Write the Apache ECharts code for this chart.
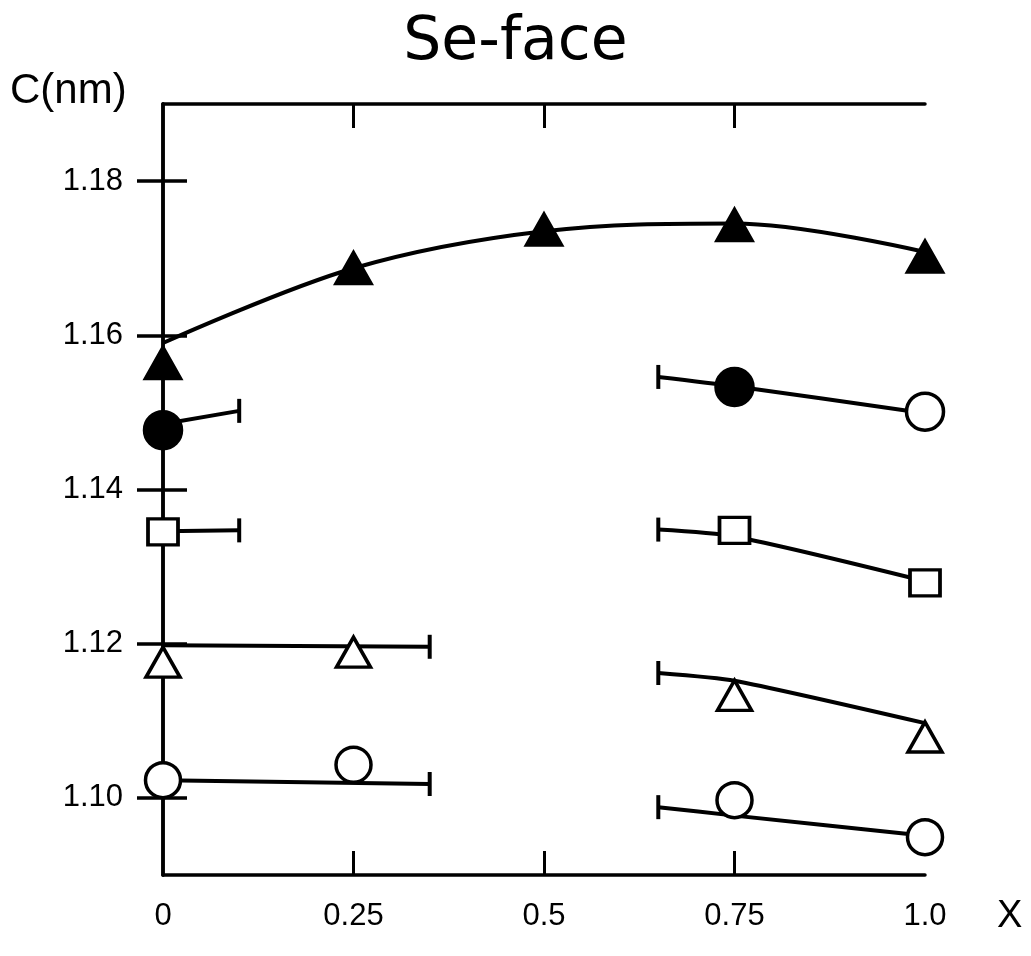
<!DOCTYPE html>
<html>
<head>
<meta charset="utf-8">
<title>Se-face</title>
<script src="https://cdn.jsdelivr.net/npm/echarts@6/dist/echarts.min.js"></script>
<style>
  html, body { margin: 0; padding: 0; background: #fff; }
  #chart { width: 1031px; height: 956px; }
</style>
</head>
<body>
<div id="chart"></div>
<script>
// Axis ticks and labels
const xTickValues = [0, 0.25, 0.5, 0.75, 1.0];
const xTickLabels = ['0', '0.25', '0.5', '0.75', '1.0'];
const xInnerTicks = [0.25, 0.5, 0.75];
const yTickValues = [1.10, 1.12, 1.14, 1.16, 1.18];
const yTickLabels = ['1.10', '1.12', '1.14', '1.16', '1.18'];

// Solid triangles: measured points and fitted curve
const triSolidX = [0, 0.25, 0.5, 0.75, 1.0];
const triSolidC = [1.1564, 1.1687, 1.1737, 1.1743, 1.1702];
const triSolidFitX = [0, 0.25, 0.5, 0.75, 1.0];
const triSolidFitC = [1.1590, 1.1687, 1.1735, 1.1745, 1.1708];

// Circles (filled at x = 0 and 0.75, open at x = 1.0)
const circX = [0, 0.75, 1.0];
const circC = [1.1477, 1.1533, 1.1501];
const circFilled = [true, true, false];
const circFitLeftX = [0, 0.1];
const circFitLeftC = [1.1485, 1.1502];
const circFitRightX = [0.65, 0.75, 1.0];
const circFitRightC = [1.1546, 1.1534, 1.1499];

// Open squares
const sqX = [0, 0.75, 1.0];
const sqC = [1.1345, 1.1347, 1.1279];
const sqFitLeftX = [0, 0.1];
const sqFitLeftC = [1.1346, 1.1347];
const sqFitRightX = [0.65, 0.75, 1.0];
const sqFitRightC = [1.1348, 1.1339, 1.1281];

// Open triangles
const triOpenX = [0, 0.25, 0.75, 1.0];
const triOpenC = [1.1176, 1.1189, 1.1133, 1.1079];
const triOpenFitLeftX = [0, 0.35];
const triOpenFitLeftC = [1.1198, 1.1196];
const triOpenFitRightX = [0.65, 0.75, 1.0];
const triOpenFitRightC = [1.1162, 1.1152, 1.1097];

// Open circles
const ringX = [0, 0.25, 0.75, 1.0];
const ringC = [1.1023, 1.1043, 1.0997, 1.0949];
const ringFitLeftX = [0, 0.35];
const ringFitLeftC = [1.1023, 1.1018];
const ringFitRightX = [0.65, 0.75, 1.0];
const ringFitRightC = [1.0988, 1.0977, 1.0951];

const zip = (xs, ys) => xs.map((x, i) => [x, ys[i]]);

const INK = '#000';
const LINE_W = 4;

function fitLine(xs, ys, smooth) {
  return {
    type: 'line',
    data: zip(xs, ys),
    smooth: smooth,
    showSymbol: false,
    symbol: 'none',
    silent: true,
    lineStyle: { color: INK, width: LINE_W, opacity: 1 },
    z: 3
  };
}

function markers(xs, ys, symbol, size, filledFlags) {
  return {
    type: 'scatter',
    symbol: symbol,
    symbolSize: size,
    data: xs.map((x, i) => {
      const filled = filledFlags ? filledFlags[i] : false;
      return {
        value: [x, ys[i]],
        itemStyle: { color: filled ? INK : '#fff', borderColor: INK, borderWidth: 3.5, opacity: 1 }
      };
    }),
    z: 5
  };
}

// Error-bar end caps sit at the open end of each partial fit line
const capPoints = [
  [circFitLeftX.at(-1), circFitLeftC.at(-1)],
  [circFitRightX[0], circFitRightC[0]],
  [sqFitLeftX.at(-1), sqFitLeftC.at(-1)],
  [sqFitRightX[0], sqFitRightC[0]],
  [triOpenFitLeftX.at(-1), triOpenFitLeftC.at(-1)],
  [triOpenFitRightX[0], triOpenFitRightC[0]],
  [ringFitLeftX.at(-1), ringFitLeftC.at(-1)],
  [ringFitRightX[0], ringFitRightC[0]]
];

const labelFont = { fontFamily: 'Liberation Sans', fontSize: 31, color: INK };

const chart = echarts.init(document.getElementById('chart'), null, { renderer: 'canvas' });

chart.setOption({
  backgroundColor: '#fff',
  animation: false,
  title: {
    text: 'Se-face',
    left: 'center',
    top: 8,
    textStyle: { fontFamily: 'DejaVu Sans', fontSize: 60, fontWeight: 'normal', color: INK }
  },
  graphic: [
    {
      type: 'text', left: 10, top: 70,
      style: { text: 'C(nm)', fontFamily: 'Liberation Sans', fontSize: 42, fill: INK }
    },
    {
      type: 'text', left: 997, top: 898,
      style: { text: 'X', fontFamily: 'Liberation Sans', fontSize: 38, fill: INK }
    }
  ],
  grid: { left: 163, right: 106, top: 104, bottom: 81 },
  xAxis: [
    {
      type: 'value', position: 'bottom', min: 0, max: 1,
      axisLine: { show: true, lineStyle: { color: INK, width: 3.5 } },
      axisTick: { show: true, inside: true, length: 24, customValues: xInnerTicks, lineStyle: { color: INK, width: 3 } },
      axisLabel: {
        show: true, margin: 26, customValues: xTickValues,
        formatter: v => xTickLabels[xTickValues.findIndex(t => Math.abs(t - v) < 1e-9)] ?? '',
        ...labelFont
      },
      splitLine: { show: false }
    },
    {
      type: 'value', position: 'top', min: 0, max: 1,
      axisLine: { show: true, lineStyle: { color: INK, width: 3.5 } },
      axisTick: { show: true, inside: true, length: 24, customValues: xInnerTicks, lineStyle: { color: INK, width: 3 } },
      axisLabel: { show: false },
      splitLine: { show: false }
    }
  ],
  yAxis: [
    {
      type: 'value', position: 'left', min: 1.09, max: 1.19,
      axisLine: { show: true, lineStyle: { color: INK, width: 3.5 } },
      axisTick: { show: true, inside: true, length: 24, customValues: yTickValues, lineStyle: { color: INK, width: 3.5 } },
      axisLabel: {
        show: true, margin: 40, customValues: yTickValues,
        formatter: v => yTickLabels[yTickValues.findIndex(t => Math.abs(t - v) < 1e-9)] ?? '',
        ...labelFont
      },
      splitLine: { show: false }
    },
    {
      type: 'value', position: 'right', min: 1.09, max: 1.19,
      axisLine: { show: true, lineStyle: { color: INK, width: 3.5 } },
      axisTick: { show: true, inside: true, length: 26, customValues: yTickValues, lineStyle: { color: INK, width: 3.5 } },
      axisLabel: { show: false },
      splitLine: { show: false }
    }
  ],
  series: [
    fitLine(triSolidFitX, triSolidFitC, 0.35),
    fitLine(circFitLeftX, circFitLeftC, false),
    fitLine(circFitRightX, circFitRightC, 0.25),
    fitLine(sqFitLeftX, sqFitLeftC, false),
    fitLine(sqFitRightX, sqFitRightC, 0.25),
    fitLine(triOpenFitLeftX, triOpenFitLeftC, false),
    fitLine(triOpenFitRightX, triOpenFitRightC, 0.2),
    fitLine(ringFitLeftX, ringFitLeftC, false),
    fitLine(ringFitRightX, ringFitRightC, 0.2),
    {
      type: 'scatter',
      symbol: 'rect',
      symbolSize: [4, 24],
      itemStyle: { color: INK, opacity: 1 },
      data: capPoints,
      z: 4
    },
    markers(triSolidX, triSolidC, 'triangle', [35, 31], triSolidX.map(() => true)),
    markers(circX, circC, 'circle', 37, circFilled),
    markers(sqX, sqC, 'rect', [30, 26], null),
    markers(triOpenX, triOpenC, 'triangle', [34, 30], null),
    markers(ringX, ringC, 'circle', 35, null)
  ]
});
</script>
</body>
</html>
